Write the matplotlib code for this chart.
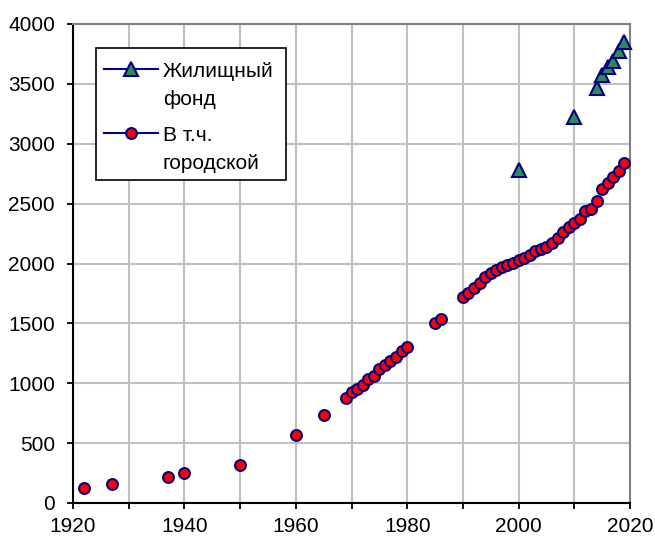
import matplotlib
matplotlib.use('Agg')
import matplotlib.pyplot as plt
from matplotlib.lines import Line2D
from matplotlib.patches import Rectangle

plt.rcParams['font.family'] = ['Liberation Sans', 'DejaVu Sans']

# жилищный фонд
years_total = [2000, 2010, 2014, 2015, 2016, 2017, 2018, 2019]
total = [2780, 3225, 3462, 3573, 3642, 3692, 3776, 3846]

# в т.ч. городской
years_urban = [1922, 1927, 1937, 1940, 1950, 1960, 1965,
               1969, 1970, 1971, 1972, 1973, 1974, 1975, 1976, 1977, 1978, 1979, 1980,
               1985, 1986,
               1990, 1991, 1992, 1993, 1994, 1995, 1996, 1997, 1998, 1999,
               2000, 2001, 2002, 2003, 2004, 2005, 2006, 2007, 2008, 2009,
               2010, 2011, 2012, 2013, 2014, 2015, 2016, 2017, 2018, 2019]
urban = [125, 156, 220, 253, 320, 570, 737,
         874, 924, 952, 985, 1032, 1063, 1118, 1152, 1188, 1221, 1271, 1305,
         1505, 1538,
         1722, 1755, 1795, 1839, 1889, 1922, 1945, 1972, 1989, 2006,
         2028, 2050, 2067, 2106, 2122, 2139, 2172, 2217, 2262, 2306,
         2340, 2373, 2440, 2451, 2523, 2618, 2674, 2724, 2774, 2840]

labels = [['Жилищный', 'фонд'], ['В т.ч.', 'городской']]

W, H = 655, 538
fig = plt.figure(figsize=(W / 100, H / 100), dpi=100)
ax = fig.add_axes([73 / W, 1 - 503 / H, 557 / W, 479 / H])

tri_style = dict(marker='^', ms=9.5, mfc='#2E8B57', mec='navy', mew=1.5)
dot_style = dict(marker='o', ms=7.8, mfc='red', mec='navy', mew=1.5)

ax.plot(years_urban, urban, linestyle='none', zorder=3, clip_on=False, **dot_style)
ax.plot(years_total, total, linestyle='none', zorder=4, clip_on=False, **tri_style)

ax.set_xlim(1920, 2020)
ax.set_ylim(0, 4000)
ax.set_xticks(range(1920, 2021, 10))
ax.set_xticklabels([str(y) if y % 20 == 0 else '' for y in range(1920, 2021, 10)])
ax.set_yticks(range(0, 4001, 500))
ax.tick_params(labelsize=15, direction='out', length=4.5, width=1.3, colors='black')
ax.tick_params(axis='y', pad=8.5)
ax.tick_params(axis='x', pad=5.5)
ax.grid(True, color='#C0C0C0', linewidth=1.5)
ax.set_axisbelow(True)
for side in ['left', 'bottom']:
    ax.spines[side].set_color('black')
    ax.spines[side].set_linewidth(1.5)
for side in ['top', 'right']:
    ax.spines[side].set_color('#808080')
    ax.spines[side].set_linewidth(1.5)


# legend drawn by hand: handle sits on the first line of each label
def fx(px):
    return px / W


def fy(py):
    return 1 - py / H


fig.patches.append(Rectangle((fx(96), fy(180)), fx(190), 132 / H, transform=fig.transFigure,
                             facecolor='white', edgecolor='black', linewidth=1.2, zorder=5))
for row, (style, lab) in enumerate(zip([tri_style, dot_style], labels)):
    yc = 69 + row * 64
    fig.add_artist(Line2D([fx(104), fx(158)], [fy(yc), fy(yc)], color='navy', lw=1.5,
                          transform=fig.transFigure, zorder=6))
    fig.add_artist(Line2D([fx(131)], [fy(yc)], linestyle='none', transform=fig.transFigure,
                          zorder=7, **style))
    fig.text(fx(163), fy(yc + 8), lab[0], fontsize=15, va='baseline', zorder=8)
    fig.text(fx(163), fy(yc + 36), lab[1], fontsize=15, va='baseline', zorder=8)

fig.savefig('out.png', dpi=100)
